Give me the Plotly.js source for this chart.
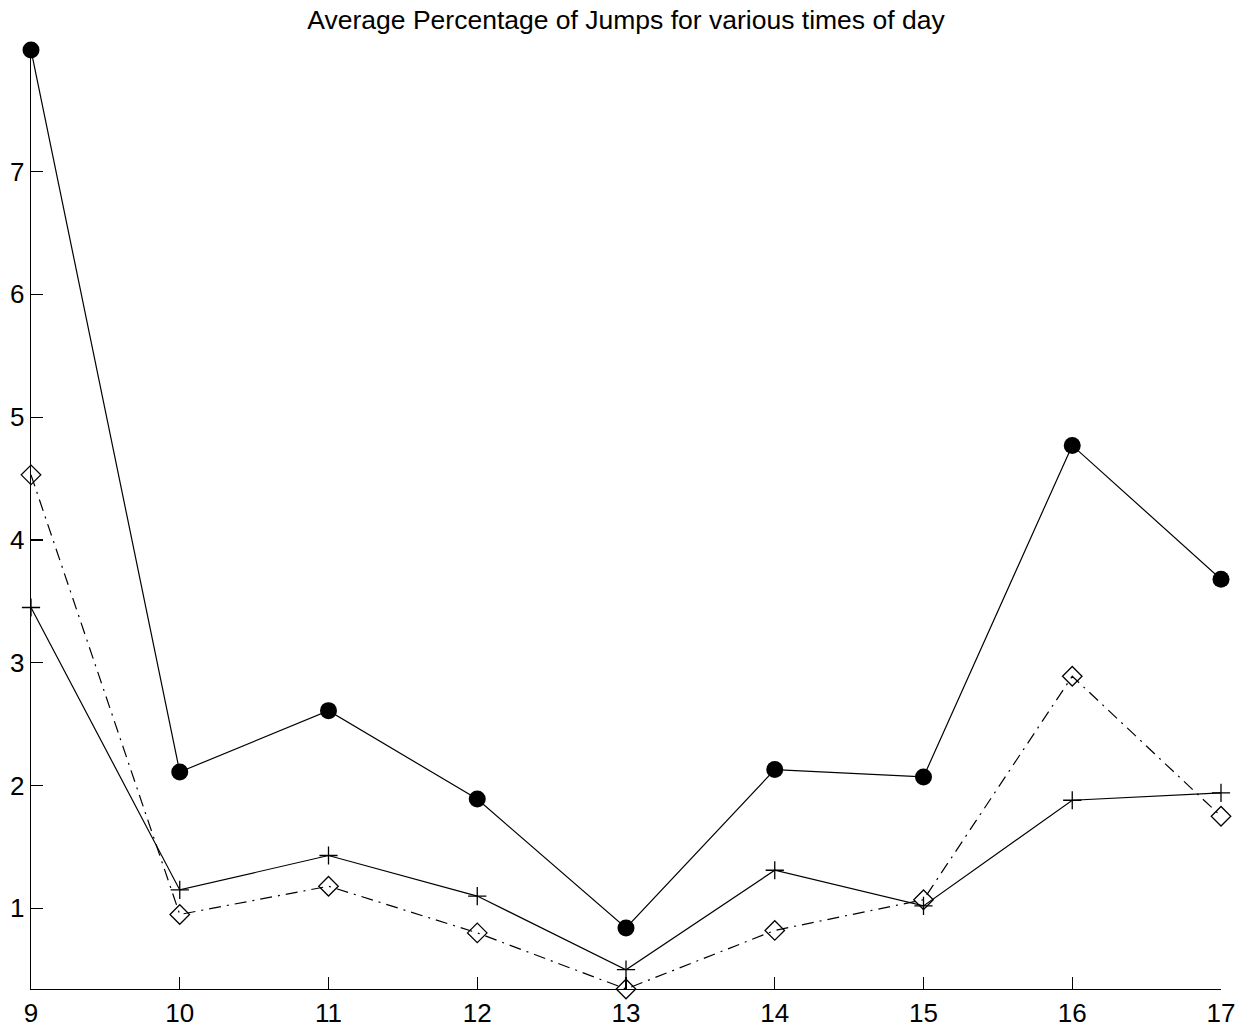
<!DOCTYPE html>
<html>
<head>
<meta charset="utf-8">
<script src="https://cdn.plot.ly/plotly-3.0.1.min.js"></script>
<style>html,body{margin:0;padding:0;background:#fff;}#chart{width:1249px;height:1030px;}</style>
</head>
<body>
<div id="chart"></div>
<script>
const hours = [9, 10, 11, 12, 13, 14, 15, 16, 17];
const seriesCircle = [7.99, 2.11, 2.61, 1.89, 0.84, 2.13, 2.07, 4.77, 3.68];
const seriesPlus = [3.45, 1.15, 1.43, 1.10, 0.50, 1.31, 1.02, 1.88, 1.94];
const seriesDiamond = [4.53, 0.95, 1.18, 0.80, 0.343, 0.82, 1.07, 2.89, 1.75];
const yTicks = [1, 2, 3, 4, 5, 6, 7];

const traces = [
  {x: hours, y: seriesCircle, type: 'scatter', mode: 'lines+markers',
   line: {color: '#000', width: 1.2},
   marker: {symbol: 'circle', size: 17, color: '#000'}, cliponaxis: false},
  {x: hours, y: seriesPlus, type: 'scatter', mode: 'lines+markers',
   line: {color: '#000', width: 1.2},
   marker: {symbol: 'cross-thin-open', size: 13, color: '#000', line: {color: '#000', width: 1.3}}, cliponaxis: false},
  {x: hours, y: seriesDiamond, type: 'scatter', mode: 'lines+markers',
   line: {color: '#000', width: 1.2, dash: '12px,6px,2px,6px'},
   marker: {symbol: 'diamond-open', size: 15, color: '#000', line: {color: '#000', width: 1.3}}, cliponaxis: false}
];

const layout = {
  width: 1249, height: 1030,
  margin: {l: 31, r: 28, t: 50, b: 41},
  paper_bgcolor: '#fff', plot_bgcolor: '#fff',
  showlegend: false,
  font: {family: 'Liberation Sans, Arial, sans-serif', size: 25, color: '#000'},
  title: {text: 'Average Percentage of Jumps for various times of day', font: {size: 26.5, color: '#000'},
          xref: 'paper', x: 0.5, xanchor: 'center', yref: 'container', y: 1 - 20/1030, yanchor: 'middle'},
  xaxis: {range: [9, 17], tickmode: 'array', tickvals: hours, ticktext: hours.map(String),
          ticks: 'inside', ticklen: 12, tickwidth: 1.2, tickcolor: '#000',
          showline: true, linecolor: '#000', linewidth: 1.3, showgrid: false, zeroline: false,
          tickfont: {size: 26}},
  yaxis: {range: [0.343, 7.99], tickmode: 'array', tickvals: yTicks, ticktext: yTicks.map(String),
          ticks: 'inside', ticklen: 12, tickwidth: 1.2, tickcolor: '#000',
          showline: true, linecolor: '#000', linewidth: 1.3, showgrid: false, zeroline: false,
          tickfont: {size: 26}}
};

Plotly.newPlot('chart', traces, layout, {staticPlot: true, displayModeBar: false});
</script>
</body>
</html>
